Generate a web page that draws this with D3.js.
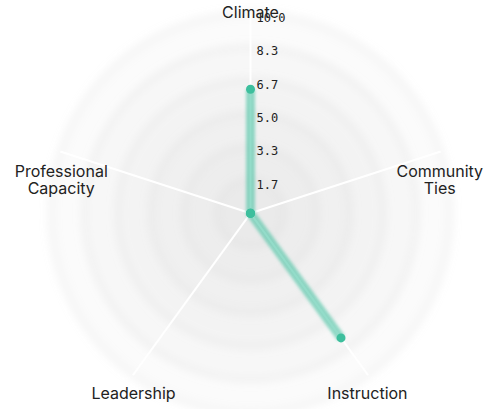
<!DOCTYPE html>
<html>
<head>
<meta charset="utf-8">
<script src="https://cdn.jsdelivr.net/npm/d3@7/dist/d3.min.js"></script>
<style>
  body { margin: 0; background: #fff; }
  svg { display: block; }
</style>
</head>
<body>
<figure id="radar" style="margin:0"></figure>
<script>
// axes of the radar, clockwise from the top
const axes = ["Climate", "Community Ties", "Instruction", "Leadership", "Professional Capacity"];
const scores = [6.2, 0, 7.7, 0, 0];
const maxValue = 10;
const levels = 6;

const width = 498, height = 409;
const cx = 250.5, cy = 213.3;
const radius = 200;
const color = "#3dbf9d";

const svg = d3.select("figure#radar")
  .append("svg")
    .attr("width", width)
    .attr("height", height);

const defs = svg.append("defs");

// soft blur for the grid rings
const ringBlur = defs.append("filter").attr("id", "ringBlur")
  .attr("x", "-20%").attr("y", "-20%").attr("width", "140%").attr("height", "140%");
ringBlur.append("feGaussianBlur").attr("stdDeviation", "4");

// blur for the radar stroke
const soft = defs.append("filter").attr("id", "soft")
  .attr("x", "-50%").attr("y", "-50%").attr("width", "200%").attr("height", "200%");
soft.append("feGaussianBlur").attr("stdDeviation", "1.8");

const g = svg.append("g").attr("transform", "translate(" + cx + "," + cy + ")");

const r = d3.scaleLinear().domain([0, maxValue]).range([0, radius]);
const angle = i => i * 2 * Math.PI / axes.length;
const tickValues = d3.range(1, levels + 1).map(d => maxValue * d / levels);

// background circles
g.selectAll(".gridCircle")
  .data(tickValues.slice().reverse())
  .enter()
  .append("circle")
    .attr("class", "gridCircle")
    .attr("r", d => r(d))
    .style("fill", "#CDCDCD")
    .style("fill-opacity", 0.07)
    .style("stroke", "#CDCDCD")
    .style("stroke-opacity", 0.22)
    .style("stroke-width", 5)
    .style("filter", "url(#ringBlur)");

// axis lines
g.selectAll(".axisLine")
  .data(axes)
  .enter()
  .append("line")
    .attr("x1", 0).attr("y1", 0)
    .attr("x2", (d, i) => r(maxValue) * Math.sin(angle(i)))
    .attr("y2", (d, i) => -r(maxValue) * Math.cos(angle(i)))
    .style("stroke", "#fff")
    .style("stroke-width", 2);

// axis labels
const labels = g.selectAll(".axisLabel")
  .data(axes)
  .enter()
  .append("text")
    .attr("class", "axisLabel")
    .style("font-family", "Inter, sans-serif")
    .style("font-size", "16px")
    .style("fill", "#222")
    .attr("text-anchor", "middle")
    .attr("x", (d, i) => (radius - 1) * Math.sin(angle(i)))
    .attr("y", (d, i) => -(radius - 1) * Math.cos(angle(i)) + (i === 0 ? 4 : 25))
    .attr("dy", "0.35em");

labels.each(function(d, i) {
  const words = d.split(" ");
  const el = d3.select(this);
  const x = el.attr("x");
  words.forEach((w, k) => {
    el.append("tspan").attr("x", x).attr("dy", k === 0 ? 0 : "1.06em").text(w);
  });
});

// radar line
const line = d3.lineRadial()
  .radius(d => r(d))
  .angle((d, i) => angle(i))
  .curve(d3.curveLinearClosed);

g.append("path")
  .datum(scores)
  .attr("d", line)
  .style("fill", color)
  .style("fill-opacity", 0.1)
  .style("stroke", color)
  .style("stroke-opacity", 0.55)
  .style("stroke-width", 9)
  .style("filter", "url(#soft)");

// points
g.selectAll(".radarCircle")
  .data(scores)
  .enter()
  .append("circle")
    .attr("r", 4.5)
    .attr("cx", (d, i) => r(d) * Math.sin(angle(i)))
    .attr("cy", (d, i) => -r(d) * Math.cos(angle(i)))
    .style("fill", color);

// level labels
g.selectAll(".levelLabel")
  .data(tickValues)
  .enter()
  .append("text")
    .attr("x", 6)
    .attr("y", d => -r(d))
    .attr("dy", "0.72em")
    .style("font-family", "'DejaVu Sans Mono', monospace")
    .style("font-size", "12px")
    .style("fill", "#222")
    .text(d => d3.format(".1f")(d));
</script>
</body>
</html>
